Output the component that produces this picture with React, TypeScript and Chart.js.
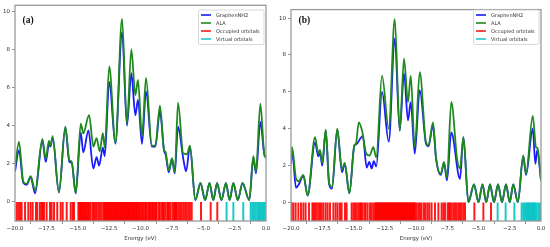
import { useEffect, useRef } from "react";
import { Chart, registerables } from "chart.js";
Chart.register(...registerables);

type Pt = [number, number];

const xTicks = [-20, -17.5, -15, -12.5, -10, -7.5, -5, -2.5, 0];
const yTicks = [0, 2, 4, 6, 8, 10];
const seriesNames = ["GraphenNH2", "ALA", "Occupied orbitals", "Virtual orbitals"];
const seriesColors = ["#1a1aff", "#1e8a1e", "rgba(255,0,0,0.9)", "rgba(0,195,195,0.9)"];

// ---------- panel (a) ----------
const graphenA: Pt[] = [
  [-20, 1.6], [-19.68, 2.7], [-19.34, 1.0], [-19.07, 0.9], [-18.75, 1.3], [-18.4, 0.45],
  [-17.82, 3.2], [-17.55, 2.1], [-17.3, 3.0], [-17.18, 2.9], [-17.0, 3.35], [-16.5, 0.5],
  [-15.99, 3.9], [-15.67, 2.1], [-15.48, 2.05], [-15.16, 0.45], [-14.76, 3.65], [-14.56, 2.6],
  [-14.15, 3.75], [-13.76, 1.75], [-13.5, 2.35], [-13.3, 1.9], [-13.0, 2.85], [-12.85, 2.4],
  [-12.49, 6.3], [-12.0, 3.05], [-11.47, 8.9], [-11.08, 4.0], [-10.73, 6.75], [-10.41, 4.55],
  [-10.2, 5.35], [-9.88, 3.05], [-9.56, 5.8], [-9.1, 2.9], [-8.82, 2.9], [-8.45, 4.75],
  [-8.13, 2.7], [-8.0, 2.5], [-7.75, 1.55], [-7.49, 2.25], [-7.27, 1.5], [-7.01, 3.95],
  [-6.6, 2.3], [-6.37, 1.6], [-6.06, 2.9], [-5.63, 0.1], [-5.22, 0.98], [-4.85, 0.1],
  [-4.5, 0.98], [-4.2, 0.1], [-3.9, 0.98], [-3.55, 0.1], [-3.19, 0.98], [-2.9, 0.1],
  [-2.6, 0.98], [-2.25, 0.1], [-1.87, 0.98], [-1.33, 0.1], [-1.01, 2.3], [-0.8, 1.5],
  [-0.45, 4.2], [-0.15, 2.55], [0, 2.3],
];
const alaA: Pt[] = [
  [-20, 1.8], [-19.68, 3.15], [-19.34, 1.05], [-19.07, 0.95], [-18.75, 1.35], [-18.4, 0.6],
  [-17.82, 3.3], [-17.55, 2.25], [-17.3, 3.2], [-17.18, 2.95], [-17.0, 3.45], [-16.5, 0.5],
  [-15.99, 3.95], [-15.67, 2.2], [-15.48, 2.1], [-15.16, 0.45], [-14.76, 4.1], [-14.56, 3.6],
  [-14.1, 4.55], [-13.75, 2.9], [-13.5, 3.35], [-13.25, 2.65], [-13.0, 3.6], [-12.85, 2.85],
  [-12.49, 7.1], [-12.0, 3.1], [-11.47, 9.6], [-11.08, 4.1], [-10.73, 8.0], [-10.41, 5.6],
  [-10.2, 6.4], [-9.88, 3.45], [-9.56, 6.5], [-9.1, 2.95], [-8.82, 2.95], [-8.45, 5.05],
  [-8.13, 2.75], [-8.0, 2.6], [-7.75, 1.65], [-7.49, 2.3], [-7.27, 1.55], [-7.01, 5.2],
  [-6.6, 2.55], [-6.3, 2.5], [-6.06, 2.95], [-5.63, 0.1], [-5.22, 0.98], [-4.85, 0.1],
  [-4.5, 0.98], [-4.2, 0.1], [-3.9, 0.98], [-3.55, 0.1], [-3.19, 0.98], [-2.9, 0.1],
  [-2.6, 0.98], [-2.25, 0.1], [-1.87, 0.98], [-1.33, 0.1], [-1.01, 2.4], [-0.8, 1.6],
  [-0.45, 5.15], [-0.15, 2.55], [0, 2.3],
];
const occupiedA: number[] = [
  -19.87, -19.74, -19.6, -19.47, -19.2, -18.94, -18.75, -18.59, -18.33, -18.22, -18.01, -17.87,
  -17.8, -17.69, -17.48, -17.21, -17.08, -16.89, -16.63, -16.36, -16.2, -15.88, -15.56, -15.4,
  -15.3, -14.95, -14.87, -14.82, -14.77, -14.69, -14.62, -14.55, -14.47, -14.42, -14.33, -14.24,
  -14.16, -14.08, -13.97, -13.81, -13.71, -13.6, -13.49, -13.36, -13.23, -13.1, -12.96, -12.88,
  -12.82, -12.75, -12.69, -12.64, -12.56, -12.5, -12.43, -12.36, -12.3, -12.22, -12.16, -12.11,
  -12.03, -11.95, -11.9, -11.85, -11.77, -11.69, -11.63, -11.58, -11.52, -11.47, -11.42, -11.37,
  -11.3, -11.24, -11.16, -11.1, -11.05, -10.99, -10.94, -10.89, -10.84, -10.77, -10.7, -10.62,
  -10.57, -10.52, -10.45, -10.36, -10.3, -10.25, -10.17, -10.09, -10.04, -9.91, -9.84, -9.77,
  -9.64, -9.57, -9.51, -9.38, -9.3, -9.24, -9.11, -9.04, -8.98, -8.85, -8.78, -8.71, -8.55,
  -8.45, -8.29, -8.2, -8.13, -8.0, -7.86, -7.8, -7.73, -7.6, -7.44, -7.33, -7.25, -7.17, -7.12,
  -6.99, -6.85, -6.72, -6.59, -6.45, -6.32, -6.19, -6.06, -5.92, -5.18, -4.41, -3.88,
];
const virtualA: number[] = [
  -3.14, -2.6, -1.81, -1.22, -1.09, -0.96, -0.82, -0.69, -0.59, -0.48, -0.37, -0.27, -0.16, -0.05,
];

// ---------- panel (b) ----------
const graphenB: Pt[] = [
  [-20, 2.1], [-19.92, 2.9], [-19.6, 0.8], [-19.4, 0.95], [-19.01, 1.45], [-18.67, 0.38],
  [-18.08, 3.25], [-17.81, 2.5], [-17.68, 2.7], [-17.5, 2.0], [-17.22, 3.9], [-16.95, 1.0],
  [-16.72, 0.75], [-16.3, 3.95], [-15.92, 1.65], [-15.7, 2.1], [-15.33, 0.5], [-14.93, 3.1],
  [-14.8, 3.15], [-14.26, 3.6], [-13.94, 1.9], [-13.74, 2.2], [-13.54, 1.85], [-13.38, 2.25],
  [-13.18, 1.95], [-12.72, 6.0], [-12.18, 3.3], [-11.7, 8.88], [-11.3, 3.9], [-10.96, 7.0],
  [-10.64, 4.45], [-10.42, 5.45], [-10.1, 2.65], [-9.7, 6.1], [-9.2, 3.2], [-9.0, 3.05],
  [-8.64, 4.2], [-8.4, 2.4], [-8.02, 1.5], [-7.76, 2.15], [-7.52, 1.2], [-7.18, 3.8],
  [-6.48, 1.28], [-6.21, 3.55], [-5.81, 0.02], [-5.36, 0.98], [-5.0, 0.02], [-4.68, 0.98],
  [-4.38, 0.02], [-4.08, 0.98], [-3.76, 0.02], [-3.44, 0.98], [-3.12, 0.02], [-2.8, 0.98],
  [-2.5, 0.02], [-2.22, 0.98], [-1.85, 0.03], [-1.42, 2.5], [-1.2, 1.5], [-0.66, 4.0],
  [-0.45, 2.1], [-0.3, 2.85], [0, 1.2],
];
const alaB: Pt[] = [
  [-20, 2.15], [-19.92, 3.0], [-19.6, 1.3], [-19.4, 1.15], [-19.01, 1.5], [-18.67, 0.38],
  [-18.08, 3.55], [-17.81, 2.65], [-17.68, 2.85], [-17.5, 2.15], [-17.22, 3.95], [-16.95, 1.05],
  [-16.72, 0.85], [-16.3, 4.0], [-15.92, 1.8], [-15.7, 2.15], [-15.33, 0.5], [-14.93, 3.1],
  [-14.8, 3.2], [-14.58, 4.35], [-14.3, 3.85], [-13.98, 2.65], [-13.7, 2.55], [-13.42, 3.0],
  [-13.18, 2.45], [-12.72, 6.88], [-12.18, 4.0], [-11.7, 9.95], [-11.3, 3.9], [-10.96, 7.8],
  [-10.64, 5.45], [-10.42, 6.88], [-10.1, 3.0], [-9.7, 7.07], [-9.2, 3.25], [-9.0, 3.1],
  [-8.64, 4.35], [-8.4, 2.45], [-8.02, 1.55], [-7.76, 2.2], [-7.52, 1.35], [-7.18, 5.45],
  [-6.7, 2.3], [-6.48, 1.85], [-6.21, 3.55], [-5.81, 0.02], [-5.36, 0.98], [-5.0, 0.02],
  [-4.68, 0.98], [-4.38, 0.02], [-4.08, 0.98], [-3.76, 0.02], [-3.44, 0.98], [-3.12, 0.02],
  [-2.8, 0.98], [-2.5, 0.02], [-2.22, 0.98], [-1.85, 0.03], [-1.42, 2.55], [-1.2, 1.55],
  [-0.66, 4.7], [-0.4, 3.0], [-0.28, 2.95], [0, 1.2],
];
const occupiedB: number[] = [
  -19.95, -19.81, -19.63, -19.41, -19.2, -19.01, -18.83, -18.56, -18.29, -18.19, -18.08, -17.95,
  -17.81, -17.68, -17.55, -17.41, -17.23, -17.07, -16.88, -16.61, -16.43, -16.27, -16.08, -15.95,
  -15.68, -15.55, -15.15, -15.01, -14.88, -14.75, -14.61, -14.48, -14.4, -14.29, -14.13, -14.03,
  -13.87, -13.68, -13.55, -13.41, -13.28, -13.2, -13.14, -13.07, -13.01, -12.95, -12.87, -12.82,
  -12.76, -12.69, -12.63, -12.57, -12.5, -12.44, -12.37, -12.31, -12.25, -12.18, -12.12, -12.05,
  -11.99, -11.93, -11.86, -11.8, -11.73, -11.67, -11.61, -11.55, -11.48, -11.42, -11.35, -11.29,
  -11.22, -11.16, -11.1, -11.04, -10.97, -10.9, -10.84, -10.78, -10.72, -10.65, -10.59, -10.52,
  -10.46, -10.4, -10.33, -10.27, -10.2, -10.14, -10.08, -9.95, -9.81, -9.68, -9.55, -9.36,
  -9.23, -9.07, -8.93, -8.75, -8.48, -8.21, -7.95, -7.81, -7.68, -7.47, -7.36, -7.28, -7.15,
  -7.01, -6.88, -6.75, -6.61, -6.48, -6.35, -6.21, -6.08, -5.33, -4.61, -4.0,
];
const virtualB: number[] = [
  -3.47, -2.83, -2.13, -1.55, -1.41, -1.28, -1.15, -1.07, -0.96, -0.85, -0.75, -0.67, -0.56,
  -0.48, -0.35, -0.21, -0.08,
];

const FONT = "DejaVu Sans";

const fmtX = (v: number) => (v < 0 ? "\u2212" : "") + Math.abs(v).toFixed(1);

const decorPlugin = {
  id: "decor",
  afterDraw(chart: any, _args: any, opts: any) {
    const { ctx, chartArea } = chart;
    const { left, right, top, bottom } = chartArea;
    ctx.save();
    // frame
    ctx.strokeStyle = "#9a9a9a";
    ctx.lineWidth = 1.3;
    ctx.strokeRect(left, top, right - left, bottom - top);
    // panel label
    ctx.fillStyle = "#111";
    ctx.font = "bold 9.5px 'Liberation Serif'";
    ctx.textBaseline = "middle";
    ctx.textAlign = "left";
    ctx.fillText(opts.label, left + 7.5, 20.5);
    // legend
    const bx = right - 67.5;
    const by = 10;
    const bw = 65.5;
    const bh = 34.5;
    ctx.fillStyle = "rgba(255,255,255,0.85)";
    ctx.strokeStyle = "#cfcfcf";
    ctx.lineWidth = 0.8;
    ctx.beginPath();
    ctx.roundRect(bx, by, bw, bh, 1.5);
    ctx.fill();
    ctx.stroke();
    ctx.font = `5px '${FONT}'`;
    ctx.textBaseline = "middle";
    seriesNames.forEach((name, i) => {
      const y = 15 + i * 8;
      ctx.strokeStyle = seriesColors[i];
      ctx.lineWidth = 1.6;
      ctx.beginPath();
      ctx.moveTo(bx + 2.5, y);
      ctx.lineTo(bx + 12.5, y);
      ctx.stroke();
      ctx.fillStyle = "#333";
      ctx.fillText(name, bx + 17.5, y + 0.3);
    });
    ctx.restore();
  },
};

type PanelProps = {
  label: string;
  graphen: Pt[];
  ala: Pt[];
  occupied: number[];
  virtual: number[];
  yMax: number;
  yWidth: number;
  padTop: number;
  left: number;
};

function Panel(p: PanelProps) {
  const ref = useRef<HTMLCanvasElement>(null);
  useEffect(() => {
    const chart = new Chart(ref.current as HTMLCanvasElement, {
      type: "line",
      data: {
        datasets: [
          {
            type: "line",
            label: seriesNames[0],
            data: p.graphen.map(([x, y]) => ({ x, y })),
            borderColor: seriesColors[0],
            borderWidth: 1.8,
            pointRadius: 0,
            cubicInterpolationMode: "monotone",
            fill: false,
            order: 2,
          },
          {
            type: "line",
            label: seriesNames[1],
            data: p.ala.map(([x, y]) => ({ x, y })),
            borderColor: seriesColors[1],
            borderWidth: 1.8,
            pointRadius: 0,
            cubicInterpolationMode: "monotone",
            fill: false,
            order: 1,
          },
          {
            type: "bar",
            label: seriesNames[2],
            data: p.occupied.map((e) => ({ x: e, y: [-1, 0] })),
            backgroundColor: seriesColors[2],
            borderWidth: 0,
            barThickness: 1.3,
            grouped: false,
            order: 3,
          } as any,
          {
            type: "bar",
            label: seriesNames[3],
            data: p.virtual.map((e) => ({ x: e, y: [-1, 0] })),
            backgroundColor: seriesColors[3],
            borderWidth: 0,
            barThickness: 1.3,
            grouped: false,
            order: 3,
          } as any,
        ],
      },
      options: {
        animation: false,
        responsive: false,
        devicePixelRatio: 1,
        events: [],
        layout: { padding: { top: p.padTop, right: 9, left: 0, bottom: 0 } },
        plugins: {
          legend: { display: false },
          tooltip: { enabled: false },
          decor: { label: p.label },
        } as any,
        scales: {
          x: {
            type: "linear",
            min: -20,
            max: 0,
            offset: false,
            afterBuildTicks: (s: any) => {
              s.ticks = xTicks.map((v) => ({ value: v }));
            },
            afterFit: (s: any) => {
              s.height = 26;
            },
            grid: {
              display: true,
              drawOnChartArea: false,
              drawTicks: true,
              tickLength: 3,
              color: "#777",
              lineWidth: 0.8,
            },
            border: { display: false },
            ticks: {
              font: { family: FONT, size: 5.5 },
              color: "#333",
              padding: 1,
              maxRotation: 0,
              autoSkip: false,
              callback: (v: any) => fmtX(Number(v)),
            },
            title: {
              display: true,
              text: "Energy (eV)",
              font: { family: FONT, size: 5.5 },
              color: "#333",
              padding: { top: 0, bottom: 5.5 },
            },
          },
          y: {
            type: "linear",
            min: -1,
            max: p.yMax,
            afterBuildTicks: (s: any) => {
              s.ticks = yTicks.map((v) => ({ value: v }));
            },
            afterFit: (s: any) => {
              s.width = p.yWidth;
            },
            grid: {
              display: true,
              drawOnChartArea: false,
              drawTicks: true,
              tickLength: 3,
              color: "#777",
              lineWidth: 0.8,
            },
            border: { display: false },
            ticks: {
              font: { family: FONT, size: 5.5 },
              color: "#333",
              padding: 2,
              autoSkip: false,
              callback: (v: any) => String(v),
            },
          },
        },
      },
      plugins: [decorPlugin],
    } as any);
    return () => chart.destroy();
  }, []);
  return (
    <div style={{ position: "absolute", left: p.left, top: 0, width: 275, height: 247 }}>
      <canvas ref={ref} width={275} height={247} style={{ display: "block", width: 275, height: 247 }} />
    </div>
  );
}

export default function App() {
  return (
    <div style={{ position: "absolute", left: 0, top: 0, width: 550, height: 247, background: "#fff" }}>
      <Panel label="(a)" graphen={graphenA} ala={alaA} occupied={occupiedA} virtual={virtualA}
        yMax={10.31} yWidth={15} padTop={4.7} left={0} />
      <Panel label="(b)" graphen={graphenB} ala={alaB} occupied={occupiedB} virtual={virtualB}
        yMax={10.46} yWidth={16} padTop={9.6} left={275} />
    </div>
  );
}
